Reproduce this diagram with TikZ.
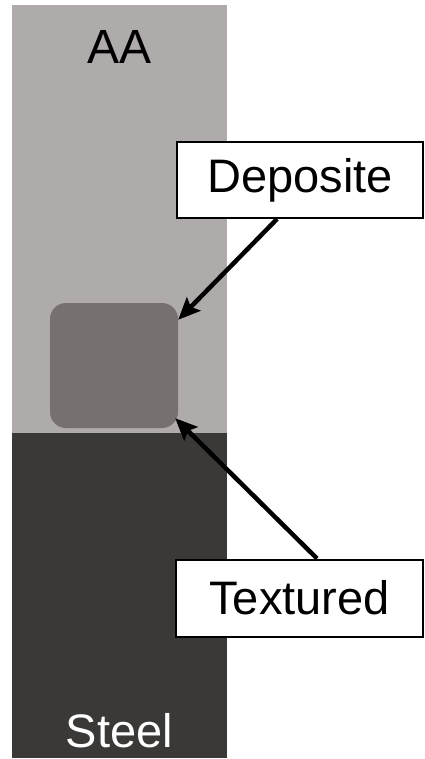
\documentclass[tikz,border=0pt]{standalone}
\usepackage{fontspec}
\setmainfont{Liberation Sans}
\usetikzlibrary{arrows.meta}
\definecolor{lightlayer}{RGB}{175,171,170}
\definecolor{midlayer}{RGB}{118,113,112}
\definecolor{darklayer}{RGB}{59,57,55}
\tikzset{
  labelbox/.style={draw=black, line width=2pt, fill=white, inner sep=0pt,
    font=\fontsize{47}{50}\selectfont},
  pointer/.style={line width=4.5pt, -{Stealth[length=22pt,width=19pt,inset=4pt]}},
  layertext/.style={inner sep=0pt, anchor=base, font=\fontsize{47}{50}\selectfont}
}
\begin{document}
\begin{tikzpicture}[x=1pt,y=-1pt]
\useasboundingbox (0,0) rectangle (424,759);
\fill[white] (0,0) rectangle (424,759);
% layers
\fill[lightlayer] (12,5) rectangle (227,433);
\fill[darklayer] (12,433) rectangle (227,758);
\node[layertext, font=\fontsize{48}{52}\selectfont] (aa) at (119.5,64) {AA};
\node[layertext, text=white] (steel) at (119.5,747) {Steel};
% deposit square
\node[fill=midlayer, rounded corners=16pt, minimum width=128pt, minimum height=125pt, inner sep=0pt] (sq) at (114,365.5) {};
% label boxes
\node[labelbox, minimum width=246pt, minimum height=76pt] (dep) at (300,180) {Deposite};
\node[labelbox, minimum width=247pt, minimum height=77pt] (tex) at (299.5,598) {Textured};
% arrows
\draw[pointer] ([xshift=-23pt]dep.south) -- ([yshift=-17pt]sq.north east);
\draw[pointer] ([xshift=17.5pt]tex.north) -- ([xshift=-3pt,yshift=10pt]sq.south east);
\end{tikzpicture}
\end{document}
